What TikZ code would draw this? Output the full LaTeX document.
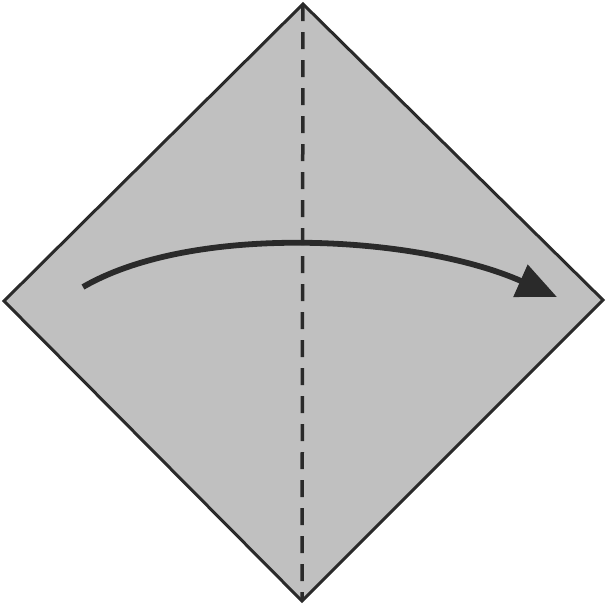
\documentclass[tikz,border=0pt]{standalone}
\usetikzlibrary{arrows.meta}
\definecolor{paper}{HTML}{C0C0C0}
\definecolor{ink}{HTML}{2A2A2A}
\tikzset{
  edge/.style={draw=ink,line width=3pt,line join=miter},
  foldline/.style={draw=ink,line width=3.5pt,dash pattern=on 17pt off 11pt},
  turn/.style={draw=ink,line width=5.8pt,-{Triangle[length=40pt,width=34pt]}}
}
\begin{document}
\begin{tikzpicture}[x=1pt,y=-1pt]
  \useasboundingbox (0,0) rectangle (606,606);

  % Corners of the square sheet
  \coordinate (top) at (303,4);
  \coordinate (right) at (603,300);
  \coordinate (bottom) at (302,601);
  \coordinate (left) at (4,301);

  % Sheet
  \filldraw[edge,fill=paper] (top) -- (right) -- (bottom) -- (left) -- cycle;

  % Valley fold along the diagonal
  \draw[foldline] (top) -- (bottom);

  % Fold over to the right
  \coordinate (from) at (83,287);
  \coordinate (to) at (557,297);
  \draw[turn] (from) .. controls (195,222) and (420,236) .. (to);
\end{tikzpicture}
\end{document}
